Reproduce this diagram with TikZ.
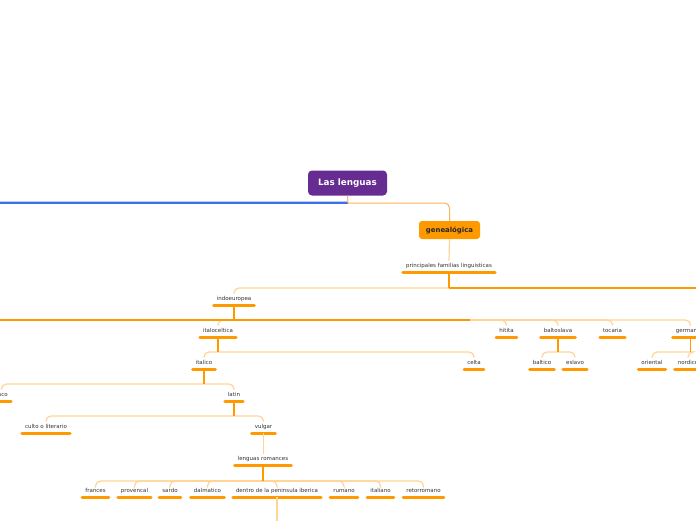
\documentclass[tikz,border=0pt]{standalone}
\usepackage{fontspec}
\setmainfont{DejaVu Sans}
\definecolor{purp}{HTML}{662C91}
\definecolor{org}{HTML}{FF9900}
\definecolor{lorg}{HTML}{FFD494}
\definecolor{morg}{HTML}{FDB456}
\definecolor{lineblue}{HTML}{3F6FE6}
\definecolor{shadeblue}{HTML}{B5CBF7}
\definecolor{txt}{HTML}{333333}
\tikzset{
 topic/.style={anchor=south, inner xsep=4.5pt, inner ysep=3pt, text height=4pt, text depth=1pt, font=\fontsize{5.5}{6}\selectfont, text=txt},
 bar/.style={org, line width=3pt, line cap=round},
 stem/.style={org, line width=1.5pt},
 lite/.style={lorg, line width=1.2pt, rounded corners=5pt},
}
\begin{document}
\begin{tikzpicture}[x=1pt,y=-1pt]
\useasboundingbox (0,0) rectangle (696,520);
\clip (0,0) rectangle (696,520);
\fill[white] (0,0) rectangle (696,520);
% root and main branch
\node[fill=purp, rounded corners=4pt, minimum width=79pt, minimum height=25pt, text=white, font=\fontsize{8.8}{10}\selectfont\bfseries] (root) at (347.5,183) {Las lenguas};
\node[fill=org, rounded corners=3pt, minimum width=61pt, minimum height=18pt, text=black!85, font=\fontsize{6.9}{8}\selectfont\bfseries] (gen) at (449.5,230) {genealógica};
% topics
\node[topic] (pfl) at (449,272) {principales familias linguisticas};
\node[topic] (indo) at (234,305) {indoeuropea};
\node[topic] (ital) at (218,337) {italoceltica};
\node[topic] (hit) at (506.5,337) {hitita};
\node[topic] (balt) at (558,337) {baltoslava};
\node[topic] (toc) at (612.5,337) {tocaria};
\node[topic] (germ) at (690.5,337) {germanico};
\node[topic] (itc) at (204,369) {italico};
\node[topic] (celta) at (474,369) {celta};
\node[topic] (baltc) at (542,369) {baltico};
\node[topic] (esl) at (575,369) {eslavo};
\node[topic] (ori) at (652,369) {oriental};
\node[topic] (nord) at (688,369) {nordico};
\node[topic] (osco) at (1.5,401) {osco};
\node[topic] (lat) at (234,401) {latin};
\node[topic] (culto) at (46,433) {culto o literario};
\node[topic] (vulg) at (263.5,433) {vulgar};
\node[topic] (lrom) at (263,465) {lenguas romances};
\node[topic] (fra) at (95.5,497) {frances};
\node[topic] (prov) at (134.5,497) {provencal};
\node[topic] (sard) at (170,497) {sardo};
\node[topic] (dalm) at (207.5,497) {dalmatico};
\node[topic] (dent) at (277,497) {dentro de la peninsula iberica};
\node[topic] (rum) at (344,497) {rumano};
\node[topic] (itl) at (380.5,497) {italiano};
\node[topic] (reto) at (423.5,497) {retorromano};
\foreach \n in {pfl,indo,ital,hit,balt,toc,germ,itc,celta,baltc,esl,ori,nord,osco,lat,culto,vulg,lrom,fra,prov,sard,dalm,dent,rum,itl,reto}
  \draw[bar] ([xshift=1.5pt]\n.south west) -- ([xshift=-1.5pt]\n.south east);
% junctions and free ends
\coordinate (rj) at (348,203);
\coordinate (leftB) at (-3,203);
\coordinate (j1) at (449,288);
\coordinate (rightA) at (700,288);
\coordinate (j2) at (234,320);
\coordinate (leftC) at (-3,320);
\coordinate (midC) at (470,320);
\coordinate (j3) at (218,352);
\coordinate (j4) at (558,352);
\coordinate (j5) at (690.5,352);
\coordinate (j6) at (204,384);
\coordinate (j7) at (234,416);
\coordinate (j8) at (263,481);
\coordinate (bottomE) at (277,525);
% root connectors
\draw[shadeblue, line width=1.2pt] ([yshift=1.4pt]rj) -- ([yshift=1.4pt]leftB);
\draw[lineblue, line width=1.2pt] (rj) -- (leftB);
\draw[morg, line width=1pt] (root.south) -- (rj);
\draw[morg, line width=1pt, rounded corners=5pt] (rj) -| (gen.north);
\draw[lite] (gen.south) -- (pfl.north);
% principales familias
\draw[lite] (j1) -| (indo.north);
\draw[stem] (pfl.south) -- (j1);
\draw[stem] (j1) -- (rightA);
% indoeuropea
\foreach \c in {ital,hit,balt,toc,germ} \draw[lite] (j2) -| (\c.north);
\draw[stem] (leftC) -- (midC);
\draw[stem] (indo.south) -- (j2);
% italoceltica
\foreach \c in {itc,celta} \draw[lite] (j3) -| (\c.north);
\draw[stem] (ital.south) -- (j3);
% baltoslava
\foreach \c in {baltc,esl} \draw[lite] (j4) -| (\c.north);
\draw[stem] (balt.south) -- (j4);
% germanico
\foreach \c in {ori,nord} \draw[lite] (j5) -| (\c.north);
\draw[stem] (germ.south) -- (j5);
% italico
\foreach \c in {osco,lat} \draw[lite] (j6) -| (\c.north);
\draw[stem] (itc.south) -- (j6);
% latin
\foreach \c in {culto,vulg} \draw[lite] (j7) -| (\c.north);
\draw[stem] (lat.south) -- (j7);
% vulgar
\draw[lite] (vulg.south) -- (vulg.south |- lrom.north);
% lenguas romances
\foreach \c in {fra,prov,sard,dalm,dent,rum,itl,reto} \draw[lite] (j8) -| (\c.north);
\draw[stem] (lrom.south) -- (j8);
\draw[lite] (dent.south) -- (bottomE);
\end{tikzpicture}
\end{document}
